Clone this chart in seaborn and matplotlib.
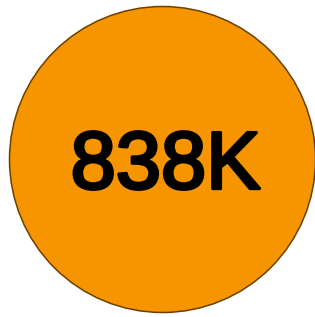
import matplotlib
matplotlib.use("Agg")
import matplotlib.pyplot as plt
import matplotlib.patheffects as pe
import seaborn as sns
import pandas as pd

# data
labels = ["838K"]
values = [838000]
xs = [0]
ys = [0]

df = pd.DataFrame({"x": xs, "y": ys, "value": values, "label": labels})

sns.set_style("white")
fig = plt.figure(figsize=(3.15, 3.17), dpi=100)
ax = fig.add_axes([0, 0, 1, 1])
ax.set_xlim(-162, 153)
ax.set_ylim(-158, 159)

diam_pt = 306 * 72 / 100
sns.scatterplot(data=df, x="x", y="y", s=diam_pt ** 2, color="#F79500",
                edgecolor="#6B4000", linewidth=1.1, ax=ax, legend=False)

for _, r in df.iterrows():
    ax.text(r["x"] + 3.5, r["y"] - 29.5, r["label"], ha="center", va="baseline",
            fontsize=58.5, family=["Liberation Sans", "DejaVu Sans"], color="black",
            path_effects=[pe.Stroke(linewidth=2.4, foreground="black"), pe.Normal()])

ax.set_axis_off()
fig.savefig("out.png", dpi=100)
